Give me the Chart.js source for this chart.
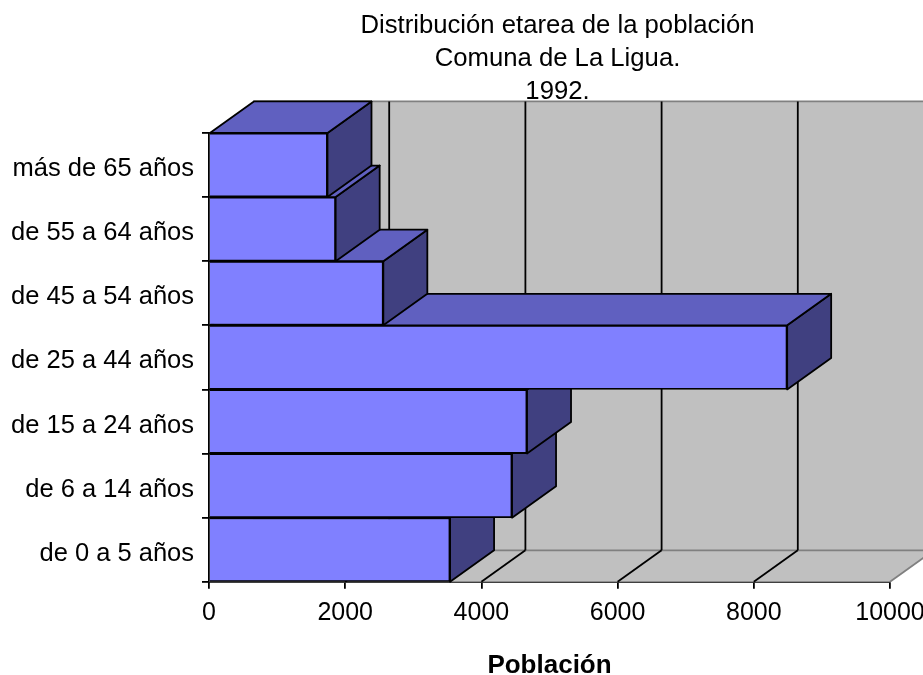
<!DOCTYPE html>
<html>
<head>
<meta charset="utf-8">
<title>Distribución etarea</title>
<script src="https://cdn.jsdelivr.net/npm/chart.js@4"></script>
<style>
html, body { margin: 0; padding: 0; background: #fff; overflow: hidden; }
canvas { display: block; }
</style>
</head>
<body>
<canvas id="piramide" width="923" height="675"></canvas>
<script>
const categorias = ['de 0 a 5 años', 'de 6 a 14 años', 'de 15 a 24 años', 'de 25 a 44 años', 'de 45 a 54 años', 'de 55 a 64 años', 'más de 65 años'];
const poblacion = [3540, 4450, 4670, 8490, 2560, 1860, 1740];
const titulo = ['Distribución etarea de la población', 'Comuna de La Ligua.', '1992.'];
const ticksX = [0, 2000, 4000, 6000, 8000, 10000];

const FONT = '"Liberation Sans", Arial, sans-serif';
// fake 3D depth of the old spreadsheet chart
const DX = 44;
const DY = 31.5;
const LW = 1.8;

function poly(ctx, pts, fill, stroke, lw) {
    ctx.beginPath();
    pts.forEach((p, i) => i ? ctx.lineTo(p[0], p[1]) : ctx.moveTo(p[0], p[1]));
    ctx.closePath();
    ctx.fillStyle = fill;
    ctx.fill();
    if (stroke) {
        ctx.strokeStyle = stroke;
        ctx.lineWidth = lw;
        ctx.lineJoin = 'round';
        ctx.stroke();
    }
}

function line(ctx, x1, y1, x2, y2, color, lw) {
    ctx.beginPath();
    ctx.moveTo(x1, y1);
    ctx.lineTo(x2, y2);
    ctx.strokeStyle = color;
    ctx.lineWidth = lw;
    ctx.stroke();
}

const caja3d = {
    id: 'caja3d',
    afterLayout(chart) {
        // title sits a bit right of the plot centre in the original
        chart.titleBlock.left += 8;
        chart.titleBlock.right += 8;
    },
    beforeDatasetsDraw(chart) {
        const ctx = chart.ctx;
        const x = chart.scales.x;
        const area = chart.chartArea;
        const x0 = x.getPixelForValue(0);
        const x1 = x.getPixelForValue(10000);

        ctx.save();
        // back wall and floor
        poly(ctx, [[x0 + DX, area.top - DY], [x1 + DX, area.top - DY], [x1 + DX, area.bottom - DY], [x0 + DX, area.bottom - DY]], '#c0c0c0');
        poly(ctx, [[x0, area.bottom], [x1, area.bottom], [x1 + DX, area.bottom - DY], [x0 + DX, area.bottom - DY]], '#c0c0c0');
        line(ctx, x0 + DX, area.top - DY, x1 + DX, area.top - DY, '#808080', LW);
        line(ctx, x0 + DX, area.bottom - DY, x1 + DX, area.bottom - DY, '#808080', LW);
        line(ctx, x1, area.bottom, x1 + DX, area.bottom - DY, '#808080', LW);

        ticksX.forEach(t => {
            if (t === 0 || t === 10000) return;
            const px = x.getPixelForValue(t);
            line(ctx, px, area.bottom, px + DX, area.bottom - DY, '#000', LW);
            line(ctx, px + DX, area.bottom - DY, px + DX, area.top - DY, '#000', LW);
        });

        // sides and tops, bottom bar first; the library paints the fronts afterwards
        const bars = chart.getDatasetMeta(0).data;
        bars.forEach(b => {
            const half = b.height / 2;
            const l = b.base;
            const r = b.x;
            const t = b.y - half;
            const btm = b.y + half;
            poly(ctx, [[r, t], [r + DX, t - DY], [r + DX, btm - DY], [r, btm]], '#404080', '#000', LW);
            poly(ctx, [[l, t], [r, t], [r + DX, t - DY], [l + DX, t - DY]], '#6060c0', '#000', LW);
        });
        ctx.restore();
    }
};

new Chart(document.getElementById('piramide'), {
    type: 'bar',
    data: {
        labels: categorias,
        datasets: [{
            label: 'Población',
            data: poblacion,
            backgroundColor: '#8080ff',
            borderColor: '#000',
            borderWidth: LW,
            barPercentage: 1,
            categoryPercentage: 1
        }]
    },
    plugins: [caja3d],
    options: {
        indexAxis: 'y',
        responsive: false,
        animation: false,
        layout: { padding: { top: 10, right: 33, bottom: 0, left: 0 } },
        plugins: {
            legend: { display: false },
            tooltip: { enabled: false },
            title: {
                display: true,
                text: titulo,
                fullSize: false,
                color: '#000',
                font: { family: FONT, size: 25.7, weight: 'normal', lineHeight: 1.27 },
                padding: { top: 0, bottom: 25 }
            }
        },
        scales: {
            x: {
                min: 0,
                max: 10000,
                afterBuildTicks(scale) { scale.ticks = ticksX.map(v => ({ value: v })); },
                // the last label may run up to the window edge, like the original
                afterFit(scale) { scale.paddingRight = 0; },
                grid: { drawOnChartArea: false, color: '#000', lineWidth: LW, tickLength: 7 },
                border: { color: '#000', width: LW },
                ticks: { color: '#000', maxRotation: 0, autoSkip: false, padding: 9, font: { family: FONT, size: 25 }, callback: v => String(v) },
                title: {
                    display: true,
                    text: 'Población',
                    color: '#000',
                    font: { family: FONT, size: 26, weight: 'bold' },
                    padding: { top: 13, bottom: -6 }
                }
            },
            y: {
                reverse: true,
                afterFit(scale) { scale.width = 209; },
                grid: { drawOnChartArea: false, color: '#000', lineWidth: LW, tickLength: 7 },
                border: { color: '#000', width: LW },
                ticks: { color: '#000', padding: 8, autoSkip: false, labelOffset: 4, font: { family: FONT, size: 25.5 } }
            }
        }
    }
});
</script>
</body>
</html>
